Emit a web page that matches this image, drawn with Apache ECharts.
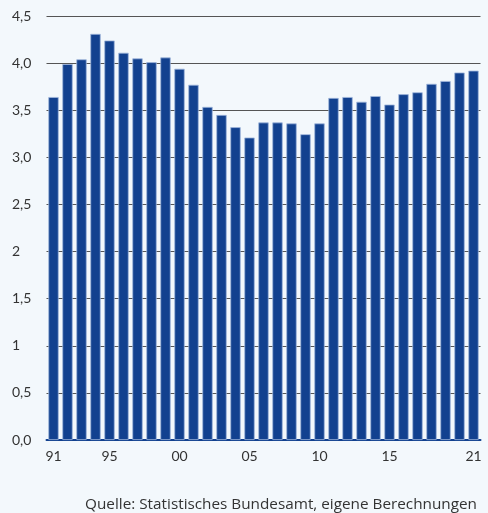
<!DOCTYPE html>
<html>
<head>
<meta charset="utf-8">
<script src="https://cdn.jsdelivr.net/npm/echarts@6/dist/echarts.min.js"></script>
<style>
html,body{margin:0;padding:0;background:#f3f8fc;}
#c{width:488px;height:513px;}
</style>
</head>
<body>
<div id="c"></div>
<script>
const years = ['91','92','93','94','95','96','97','98','99','00','01','02','03','04','05','06','07','08','09','10','11','12','13','14','15','16','17','18','19','20','21'];
const values = [3.64,3.99,4.04,4.31,4.24,4.11,4.05,4.01,4.06,3.94,3.77,3.535,3.45,3.32,3.21,3.37,3.37,3.36,3.245,3.36,3.63,3.64,3.59,3.65,3.56,3.67,3.69,3.78,3.81,3.90,3.92];
const shownYears = ['91','95','00','05','10','15','21'];
const yTickValues = [0,0.5,1,1.5,2,2.5,3,3.5,4,4.5];
const yTickLabels = ['0,0','0,5','1','1,5','2','2,5','3,0','3,5','4,0','4,5'];
const sourceText = 'Quelle: Statistisches Bundesamt, eigene Berechnungen';

const chart = echarts.init(document.getElementById('c'), null, {renderer:'canvas'});
const font = 'Lato';
chart.setOption({
  backgroundColor:'#f3f8fc',
  animation:false,
  grid:{left:46.5, right:7.5, top:16, bottom:73},
  xAxis:{
    type:'category',
    data:years,
    axisTick:{show:false},
    axisLine:{show:true, lineStyle:{color:'#12418f', width:2}},
    axisLabel:{
      interval:function(i, v){ return shownYears.indexOf(v) >= 0; },
      color:'#333', fontFamily:font, fontSize:14, margin:9
    }
  },
  yAxis:{
    type:'value', min:0, max:4.5, interval:0.5,
    axisLine:{show:false}, axisTick:{show:false},
    splitLine:{lineStyle:{color:'#555', width:1.2}},
    axisLabel:{
      align:'left', margin:34.5,
      color:'#333', fontFamily:font, fontSize:14,
      formatter:function(v){ const i = yTickValues.findIndex(t=>Math.abs(t-v)<1e-6); return i>=0 ? yTickLabels[i] : ''; }
    }
  },
  series:[{
    type:'bar',
    data:values,
    barWidth:'74%',
    itemStyle:{color:'#12418f', borderColor:'#9fb6dc', borderWidth:0.8},
    z:3
  }],
  graphic:[{
    type:'text', right:11, bottom:1,
    style:{text:sourceText, fill:'#333', font:'15.3px "Open Sans"', textAlign:'right'}
  }]
});
</script>
</body>
</html>
